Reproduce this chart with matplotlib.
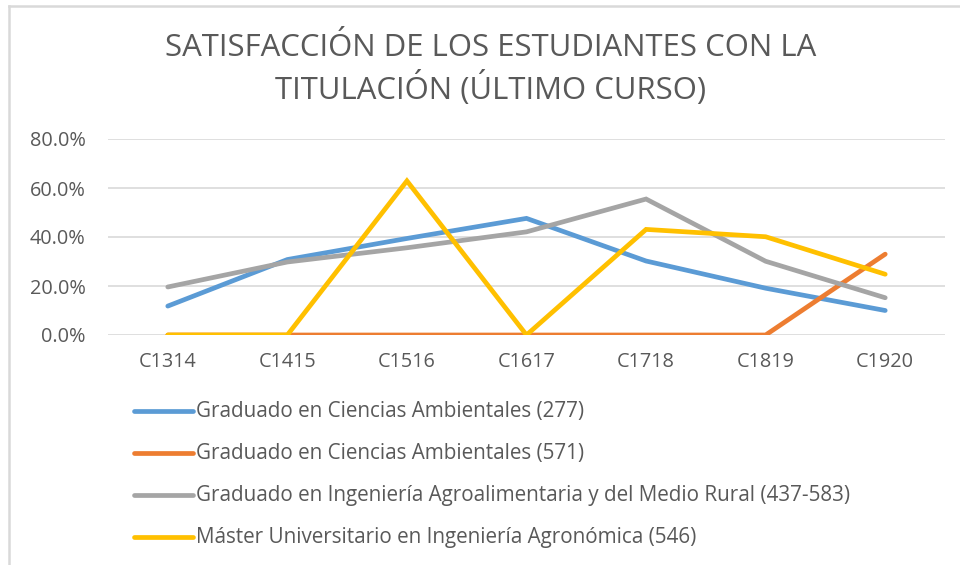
import matplotlib
matplotlib.use("Agg")
import matplotlib.pyplot as plt
from matplotlib.lines import Line2D
from matplotlib.ticker import FuncFormatter

categories = ["C1314", "C1415", "C1516", "C1617", "C1718", "C1819", "C1920"]
series_names = [
    "Graduado en Ciencias Ambientales (277)",
    "Graduado en Ciencias Ambientales (571)",
    "Graduado en Ingeniería Agroalimentaria y del Medio Rural (437-583)",
    "Máster Universitario en Ingeniería Agronómica (546)",
]
ambientales_277 = [0.118, 0.308, 0.394, 0.476, 0.302, 0.191, 0.100]
ambientales_571 = [0.0, 0.0, 0.0, 0.0, 0.0, 0.0, 0.330]
agroalimentaria = [0.196, 0.298, 0.356, 0.421, 0.555, 0.301, 0.152]
master_agronomica = [0.0, 0.0, 0.629, 0.0, 0.431, 0.401, 0.248]
yticks = [0.0, 0.2, 0.4, 0.6, 0.8]

colors = ["#5B9BD5", "#ED7D31", "#A5A5A5", "#FFC000"]
series = [ambientales_277, ambientales_571, agroalimentaria, master_agronomica]

plt.rcParams['font.family'] = ['Open Sans', 'DejaVu Sans']
txt = "#595959"

fig = plt.figure(figsize=(9.6, 5.65), dpi=100)
ax = fig.add_axes([108/960, 1-335/565, (945-108)/960, (335-139)/565])

x = list(range(len(categories)))
for vals, c, name in zip(series, colors, series_names):
    ax.plot(x, vals, color=c, lw=3.4, solid_capstyle='round', solid_joinstyle='miter', label=name, zorder=3)

ax.set_xlim(-0.5, len(categories) - 0.5)
ax.set_ylim(0, 0.8)
ax.set_yticks(yticks)
ax.yaxis.set_major_formatter(FuncFormatter(lambda v, p: f"{v*100:.1f}%"))
ax.set_xticks(x)
ax.set_xticklabels(categories)
ax.grid(axis='y', color='#D9D9D9', lw=1.2, zorder=0)
for s in ax.spines.values():
    s.set_visible(False)
ax.tick_params(axis='both', length=0, labelsize=14.3, colors=txt)
ax.tick_params(axis='y', pad=16)
ax.tick_params(axis='x', pad=12)
ax.set_clip_on(False)

fig.text(0.511, 1-48/565, "SATISFACCIÓN DE LOS ESTUDIANTES CON LA", ha='center', va='center', fontsize=22.4, color=txt)
fig.text(0.511, 1-88/565, "TITULACIÓN (ÚLTIMO CURSO)", ha='center', va='center', fontsize=22.4, color=txt)

# legend (vertical list below chart)
leg_y = [411, 453, 495, 537]
for yy, c, name in zip(leg_y, colors, series_names):
    fy = 1 - yy/565
    fig.add_artist(Line2D([134/960, 193/960], [fy, fy], color=c, lw=3.4, solid_capstyle='round'))
    fig.text(196/960, fy, name, ha='left', va='center', fontsize=14.9, color=txt)

# chart area border (top and left visible)
fig.add_artist(Line2D([9/960, 1.0], [1-6/565, 1-6/565], color='#D9D9D9', lw=1.8))
fig.add_artist(Line2D([9/960, 9/960], [0, 1-6/565], color='#D9D9D9', lw=1.8))

fig.savefig("out.png", dpi=100)
